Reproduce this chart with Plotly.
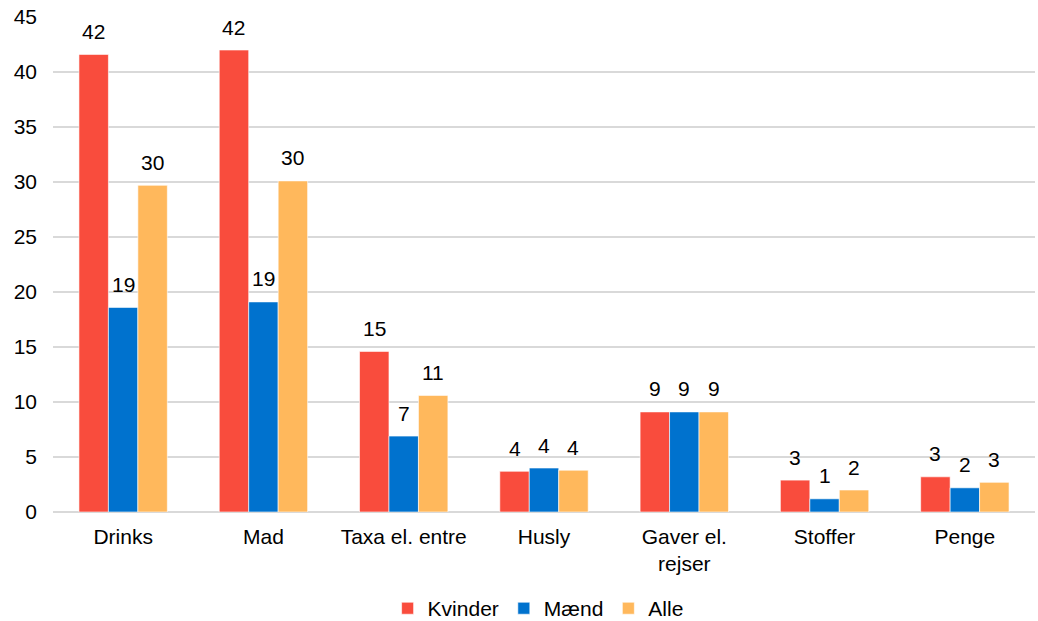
import plotly.graph_objects as go

categories = ["Drinks", "Mad", "Taxa el. entre", "Husly", "Gaver el.<br>rejser", "Stoffer", "Penge"]
series_names = ["Kvinder", "Mænd", "Alle"]
kvinder = [41.6, 42.0, 14.6, 3.7, 9.1, 2.9, 3.2]
maend = [18.6, 19.1, 6.9, 4.0, 9.1, 1.2, 2.2]
alle = [29.7, 30.1, 10.6, 3.8, 9.1, 2.0, 2.7]
colors = ["#F94C3D", "#0072CE", "#FFB85C"]

series = [kvinder, maend, alle]
x_idx = list(range(len(categories)))
bar_w = 0.21
offsets = [-bar_w, 0, bar_w]
FONT = "Liberation Sans, Arial"

fig = go.Figure()
for name, vals, col in zip(series_names, series, colors):
    fig.add_trace(go.Bar(
        x=x_idx, y=vals, name=name,
        marker=dict(color=col, line=dict(color="rgba(255,255,255,0.6)", width=1)),
    ))

annotations = []
for vals, off in zip(series, offsets):
    for i, v in enumerate(vals):
        annotations.append(dict(
            x=i + off, y=v, xref="x", yref="y",
            text=str(int(round(v))), showarrow=False,
            yanchor="middle", yshift=23,
            font=dict(family=FONT, size=21, color="#000"),
        ))

fig.update_layout(
    width=1038, height=621,
    barmode="group", bargap=0.37, bargroupgap=0,
    plot_bgcolor="white", paper_bgcolor="white",
    margin=dict(l=53, r=3, t=17, b=109),
    font=dict(family=FONT, size=21, color="#000"),
    annotations=annotations,
    legend=dict(orientation="h", x=0.494, xanchor="center",
                yref="container", y=0.02, yanchor="middle",
                font=dict(size=21), itemwidth=30, traceorder="normal",
                tracegroupgap=0),
    xaxis=dict(tickmode="array", tickvals=x_idx, ticktext=categories,
               range=[-0.5, len(categories) - 0.5], showgrid=False, zeroline=False,
               ticks="", showline=False, automargin=False, ticklabelstandoff=10),
    yaxis=dict(range=[0, 45], dtick=5, showgrid=True, gridcolor="#d9d9d9", gridwidth=1.5,
               zeroline=True, zerolinecolor="#d9d9d9", zerolinewidth=1.5,
               ticks="", ticklabelstandoff=15, automargin=False),
)

post = (
    "var h=document.documentElement, b=document.body;"
    "[h,b].forEach(function(e){e.style.margin='0';e.style.padding='0';"
    "e.style.overflow='hidden';e.style.width='1038px';e.style.height='621px';});"
    "var d=document.getElementById('{plot_id}'); d.style.display='block';"
    "if(d.parentElement){d.parentElement.style.height='621px';d.parentElement.style.overflow='hidden';}"
)

fig.write_html("out.html", config={"displayModeBar": False}, post_script=post)
